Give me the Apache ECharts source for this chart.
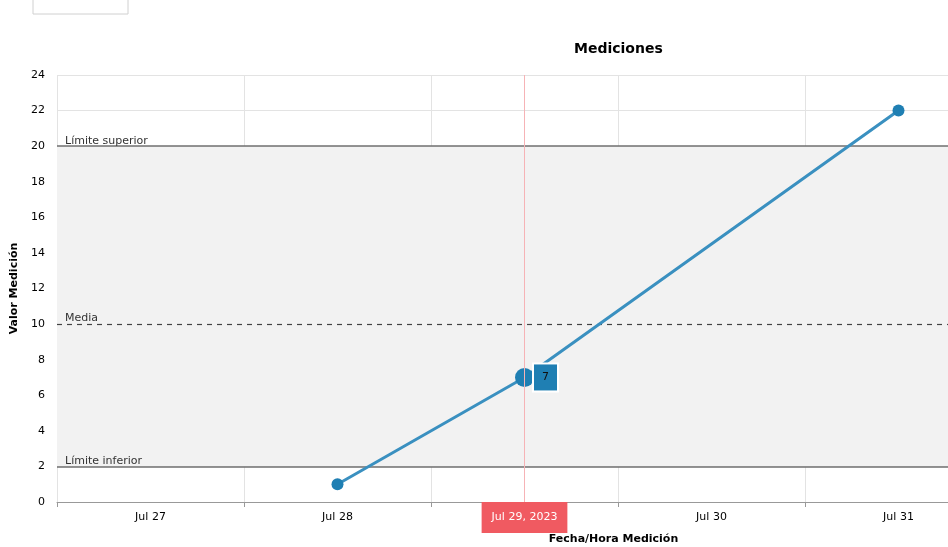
<!DOCTYPE html>
<html>
<head>
<meta charset="utf-8">
<script src="https://cdn.jsdelivr.net/npm/echarts@6/dist/echarts.min.js"></script>
<style>html,body{margin:0;padding:0;background:#fff}#c{width:948px;height:547px}</style>
</head>
<body>
<div id="c"></div>
<script>
const categories = ['Jul 27', 'Jul 28', 'Jul 29', 'Jul 30', 'Jul 31'];
const values = [null, 1, 7, null, 22];
const upperLimit = 20;
const mean = 10;
const lowerLimit = 2;
const cursorCategory = 'Jul 29';
const cursorLabel = 'Jul 29, 2023';
const highlightIndex = 2;

const FONT = 'DejaVu Sans';
const chart = echarts.init(document.getElementById('c'));

const seriesData = values.map((v, i) => {
  if (i === highlightIndex) {
    return {
      value: v,
      symbolSize: 19,
      label: {
        show: true, position: 'right', distance: 0,
        formatter: '{c}', color: '#111', fontFamily: FONT, fontSize: 11,
        backgroundColor: '#1f7fb3', borderColor: '#fff', borderWidth: 2,
        padding: [8, 8, 7, 8]
      }
    };
  }
  return v;
});

chart.setOption({
  animation: false,
  title: {
    text: 'Mediciones', left: 569, top: 37,
    textStyle: { fontFamily: FONT, fontSize: 14, fontWeight: 'bold', color: '#000' }
  },
  graphic: [{
    type: 'rect', shape: { x: 33, y: -6, width: 95, height: 20 },
    style: { fill: 'none', stroke: '#d0d0d0', lineWidth: 1 }
  }],
  grid: { left: 57, top: 75, width: 935, height: 427, outerBoundsMode: 'none', containLabel: false },
  xAxis: {
    type: 'category', data: categories, boundaryGap: true,
    name: 'Fecha/Hora Medición', nameLocation: 'middle', nameGap: 32,
    nameTextStyle: { fontFamily: FONT, fontSize: 11, fontWeight: 'bold', color: '#000', padding: [0, 0, 0, 178] },
    axisLine: { lineStyle: { color: '#999' } },
    axisTick: { show: true, alignWithLabel: false, length: 5, lineStyle: { color: '#999' } },
    axisLabel: { fontFamily: FONT, fontSize: 11, color: '#000', margin: 10 },
    splitLine: { show: true, lineStyle: { color: '#e3e3e3' } },
    axisPointer: {
      show: true, value: cursorCategory, status: 'show', type: 'line',
      lineStyle: { color: '#f6b3b6', width: 1, type: 'solid' },
      label: {
        show: true, formatter: cursorLabel, backgroundColor: '#f05a61', color: '#fff',
        fontFamily: FONT, fontSize: 11, padding: [10, 10, 10, 10], margin: 0, borderRadius: 0
      },
      handle: { show: false }
    }
  },
  yAxis: {
    type: 'value', min: 0, max: 24, interval: 2,
    name: 'Valor Medición', nameLocation: 'middle', nameGap: 33,
    nameTextStyle: { fontFamily: FONT, fontSize: 11, fontWeight: 'bold', color: '#000' },
    axisLine: { show: false }, axisTick: { show: false },
    axisLabel: { fontFamily: FONT, fontSize: 11, color: '#000', margin: 12 },
    splitLine: { lineStyle: { color: '#e3e3e3' } }
  },
  series: [{
    type: 'line', data: seriesData, connectNulls: true,
    symbol: 'circle', symbolSize: 12, showAllSymbol: true,
    itemStyle: { color: '#1f7fb3' },
    lineStyle: { color: '#3a90c0', width: 3 },
    z: 5,
    markArea: {
      silent: true,
      itemStyle: { color: '#f2f2f2' },
      data: [[{ yAxis: lowerLimit }, { yAxis: upperLimit }]]
    },
    markLine: {
      silent: true, symbol: 'none',
      label: { position: 'insideStartTop', fontFamily: FONT, fontSize: 11, color: '#333', distance: [8, 0] },
      data: [
        { yAxis: upperLimit, name: 'Límite superior', label: { formatter: 'Límite superior' }, lineStyle: { color: '#6f6f6f', width: 1.5, type: 'solid' } },
        { yAxis: mean, name: 'Media', label: { formatter: 'Media' }, lineStyle: { color: '#444', width: 1.2, type: [5, 5] } },
        { yAxis: lowerLimit, name: 'Límite inferior', label: { formatter: 'Límite inferior' }, lineStyle: { color: '#6f6f6f', width: 1.5, type: 'solid' } }
      ]
    }
  }]
});
</script>
</body>
</html>
